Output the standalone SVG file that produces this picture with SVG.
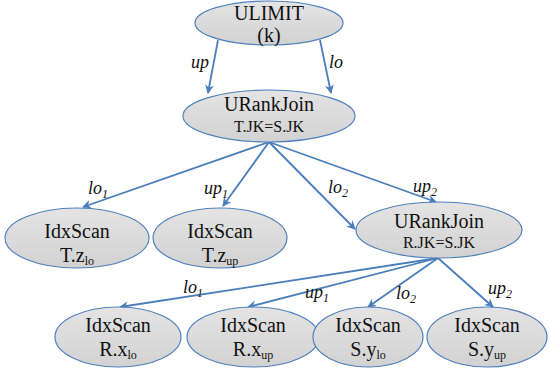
<svg xmlns="http://www.w3.org/2000/svg" width="550" height="374" viewBox="0 0 550 374" font-family="Liberation Serif">
<defs>
<linearGradient id="g" x1="0" y1="0" x2="0" y2="1">
<stop offset="0" stop-color="#e4e4e4"/>
<stop offset="1" stop-color="#d2d2d2"/>
</linearGradient>
<marker id="ah" viewBox="0 0 10 10" refX="9" refY="5" markerWidth="5" markerHeight="5" orient="auto" markerUnits="strokeWidth">
<path d="M0,0 L10,5 L0,10 L3,5 Z" fill="#4a7ebb"/>
</marker>
</defs>
<style>
.node ellipse{fill:url(#g);stroke:#4f81bd;stroke-width:1.2}
.main{font-family:'Liberation Serif',serif;font-size:20px;fill:#111;text-anchor:middle}
.small{font-family:'Liberation Serif',serif;font-size:16px;fill:#111;text-anchor:middle}
.sb{font-size:12px}
.edges line{stroke:#4a7ebb;stroke-width:1.8;marker-end:url(#ah)}
.lab{font-family:'Liberation Serif',serif;font-style:italic;font-size:18px;fill:#111}
</style>
<g class="edges" id="connectors">
<line x1="218" y1="40" x2="208" y2="93"/>
<line x1="320" y1="40" x2="331" y2="93"/>
<line x1="269" y1="142" x2="83" y2="207"/>
<line x1="269" y1="142" x2="223" y2="206"/>
<line x1="269" y1="142" x2="355" y2="229"/>
<line x1="269" y1="142" x2="436" y2="202"/>
<line x1="438" y1="258" x2="120" y2="307"/>
<line x1="438" y1="258" x2="248" y2="307"/>
<line x1="438" y1="258" x2="368" y2="307"/>
<line x1="438" y1="258" x2="493" y2="307"/>
</g>
<g id="labels">
<text class="lab" font-family="Liberation Serif" style="font-family:'Liberation Serif',serif" x="191" y="68">up</text>
<text class="lab" font-family="Liberation Serif" style="font-family:'Liberation Serif',serif" x="329" y="68">lo</text>
<text class="lab" font-family="Liberation Serif" style="font-family:'Liberation Serif',serif" x="88" y="194">lo<tspan class="sb" dy="4">1</tspan></text>
<text class="lab" font-family="Liberation Serif" style="font-family:'Liberation Serif',serif" x="204" y="194">up<tspan class="sb" dy="4">1</tspan></text>
<text class="lab" font-family="Liberation Serif" style="font-family:'Liberation Serif',serif" x="328" y="193">lo<tspan class="sb" dy="4">2</tspan></text>
<text class="lab" font-family="Liberation Serif" style="font-family:'Liberation Serif',serif" x="413" y="192">up<tspan class="sb" dy="4">2</tspan></text>
<text class="lab" font-family="Liberation Serif" style="font-family:'Liberation Serif',serif" x="183" y="293">lo<tspan class="sb" dy="4">1</tspan></text>
<text class="lab" font-family="Liberation Serif" style="font-family:'Liberation Serif',serif" x="305" y="298">up<tspan class="sb" dy="4">1</tspan></text>
<text class="lab" font-family="Liberation Serif" style="font-family:'Liberation Serif',serif" x="396" y="299">lo<tspan class="sb" dy="4">2</tspan></text>
<text class="lab" font-family="Liberation Serif" style="font-family:'Liberation Serif',serif" x="488" y="294">up<tspan class="sb" dy="4">2</tspan></text>
</g>
<g class="node" id="ulimit">
<ellipse cx="269" cy="23" rx="74" ry="22"/>
<text class="main" font-family="Liberation Serif" style="font-family:'Liberation Serif',serif" x="269" y="20">ULIMIT</text>
<text class="main" font-family="Liberation Serif" style="font-family:'Liberation Serif',serif" x="269" y="42">(k)</text>
</g>
<g class="node" id="urankjoin1">
<ellipse cx="269" cy="116" rx="86" ry="26"/>
<text class="main" font-family="Liberation Serif" style="font-family:'Liberation Serif',serif" x="269" y="111">URankJoin</text>
<text class="small" font-family="Liberation Serif" style="font-family:'Liberation Serif',serif" x="269" y="132">T.JK=S.JK</text>
</g>
<g class="node" id="tzlo">
<ellipse cx="77" cy="238" rx="72" ry="30"/>
<text class="main" font-family="Liberation Serif" style="font-family:'Liberation Serif',serif" x="77" y="238">IdxScan</text>
<text class="main" font-family="Liberation Serif" style="font-family:'Liberation Serif',serif" x="77" y="262">T.z<tspan class="sb" dy="3">lo</tspan></text>
</g>
<g class="node" id="tzup">
<ellipse cx="220" cy="238" rx="67" ry="30"/>
<text class="main" font-family="Liberation Serif" style="font-family:'Liberation Serif',serif" x="220" y="238">IdxScan</text>
<text class="main" font-family="Liberation Serif" style="font-family:'Liberation Serif',serif" x="220" y="262">T.z<tspan class="sb" dy="3">up</tspan></text>
</g>
<g class="node" id="urankjoin2">
<ellipse cx="439" cy="230" rx="83" ry="28"/>
<text class="main" font-family="Liberation Serif" style="font-family:'Liberation Serif',serif" x="439" y="228">URankJoin</text>
<text class="small" font-family="Liberation Serif" style="font-family:'Liberation Serif',serif" x="439" y="248">R.JK=S.JK</text>
</g>
<g class="node" id="rxlo">
<ellipse cx="118" cy="337" rx="63" ry="30"/>
<text class="main" font-family="Liberation Serif" style="font-family:'Liberation Serif',serif" x="118" y="332">IdxScan</text>
<text class="main" font-family="Liberation Serif" style="font-family:'Liberation Serif',serif" x="118" y="356">R.x<tspan class="sb" dy="3">lo</tspan></text>
</g>
<g class="node" id="rxup">
<ellipse cx="253" cy="337" rx="66" ry="30"/>
<text class="main" font-family="Liberation Serif" style="font-family:'Liberation Serif',serif" x="253" y="332">IdxScan</text>
<text class="main" font-family="Liberation Serif" style="font-family:'Liberation Serif',serif" x="253" y="356">R.x<tspan class="sb" dy="3">up</tspan></text>
</g>
<g class="node" id="sylo">
<ellipse cx="368" cy="337" rx="55" ry="30"/>
<text class="main" font-family="Liberation Serif" style="font-family:'Liberation Serif',serif" x="368" y="332">IdxScan</text>
<text class="main" font-family="Liberation Serif" style="font-family:'Liberation Serif',serif" x="368" y="356">S.y<tspan class="sb" dy="3">lo</tspan></text>
</g>
<g class="node" id="syup">
<ellipse cx="487" cy="337" rx="60" ry="30"/>
<text class="main" font-family="Liberation Serif" style="font-family:'Liberation Serif',serif" x="487" y="332">IdxScan</text>
<text class="main" font-family="Liberation Serif" style="font-family:'Liberation Serif',serif" x="487" y="356">S.y<tspan class="sb" dy="3">up</tspan></text>
</g>
</svg>
